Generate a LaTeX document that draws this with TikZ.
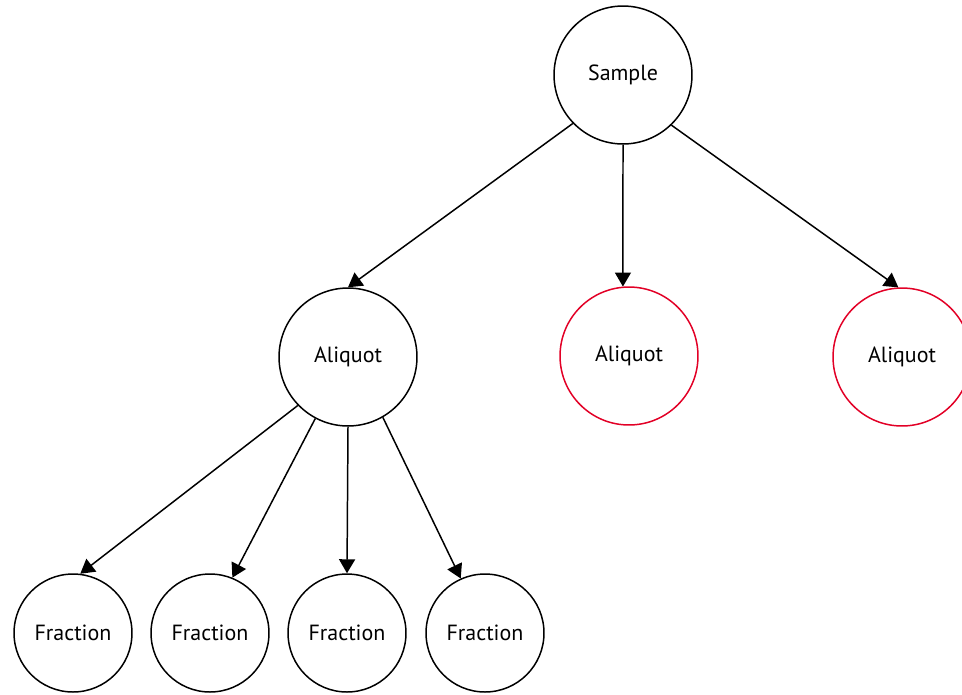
\documentclass[tikz,border=0pt]{standalone}
\usepackage{fontspec}
\setmainfont{PT Sans}
\usetikzlibrary{arrows.meta}
\definecolor{aliqred}{RGB}{226,0,38}
\tikzset{
  bignode/.style={circle, draw=black, line width=0.85pt, minimum size=2.76cm, inner sep=0pt, font=\fontsize{12.5}{14}\selectfont},
  smallnode/.style={circle, draw=black, line width=0.85pt, minimum size=2.36cm, inner sep=0pt, font=\fontsize{12.5}{14}\selectfont},
  rednode/.style={bignode, draw=aliqred},
  link/.style={line width=0.85pt, -{Triangle[length=0.28cm, width=0.32cm]}}
}
\begin{document}
\begin{tikzpicture}[x=0.02cm, y=-0.02cm]
            \useasboundingbox (0,0) rectangle (962,694);

            % level heights
            \def\ys{75}
            \def\ya{357}
            \def\yf{633}

            \node[bignode] (sample) at (623, \ys) {Sample};

            \node[bignode] (aliq) at (348, \ya) {Aliquot};
            \node[rednode] (aliqb) at (629, 356) {Aliquot};
            \node[rednode] (aliqc) at (902, \ya) {Aliquot};

            \node[smallnode] (fa) at (73, \yf) {Fraction};
            \node[smallnode] (fb) at (210, \yf) {Fraction};
            \node[smallnode] (fc) at (347, \yf) {Fraction};
            \node[smallnode] (fd) at (485, \yf) {Fraction};

            \draw[link] (sample.224) -- (aliq.90);
            \draw[link] (sample.270) -- (aliqb.95);
            \draw[link] (sample.314) -- (aliqc.93);

            \draw[link] (aliq.224) -- (fa.83);
            \draw[link] (aliq.242) -- (fb.68);
            \draw[link] (aliq.270) -- (fc.90);
            \draw[link] (aliq.300) -- (fd.114);

        \end{tikzpicture}
\end{document}
